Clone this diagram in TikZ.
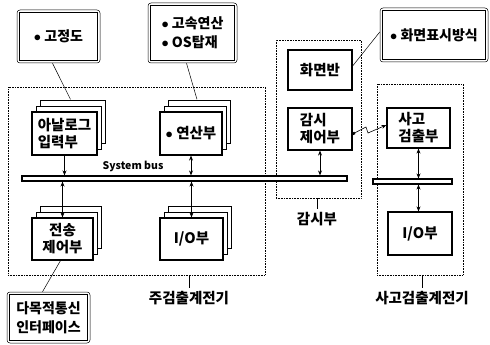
\documentclass[tikz,border=0pt]{standalone}
\usepackage{fontspec}
\setmainfont{Noto Sans CJK KR}
\usetikzlibrary{arrows.meta,shadows}
\tikzset{
  box/.style={draw, line width=1.2pt, fill=white, inner sep=1pt, font=\bfseries\fontsize{14.5}{17}\selectfont},
  stack/.style={box, double copy shadow={shadow xshift=4pt, shadow yshift=6pt, draw, fill=white, line width=1pt}},
  callout/.style={draw, line width=0.5pt, rounded corners=3pt, fill=white, font=\bfseries\fontsize{14}{19}\selectfont, align=left},
  innerframe/.style={line width=1.2pt},
  group/.style={draw, densely dotted, line width=0.6pt},
  bus/.style={draw, line width=1.1pt, fill=white, inner sep=0pt, minimum height=5pt},
  lbl/.style={font=\bfseries\fontsize{14.5}{17}\selectfont},
  thinline/.style={line width=0.5pt},
  darrow/.style={line width=0.8pt, {Stealth[length=5pt,width=4pt]}-{Stealth[length=5pt,width=4pt]}},
  sarrow/.style={line width=0.8pt, -{Stealth[length=5pt,width=4pt]}},
}
\newcommand\framein[1]{\draw[innerframe] ([shift={(3pt,-3pt)}]#1.north west) rectangle ([shift={(-3pt,3pt)}]#1.south east);}
\begin{document}
\begin{tikzpicture}[x=1pt,y=-1pt]
\useasboundingbox (0,0) rectangle (490,345);
% group frames
\node[group, minimum width=257pt, minimum height=188pt, inner sep=0] (mainbox) at (136.5,181) {};
\node[group, minimum width=85pt, minimum height=158pt, inner sep=0] (gambox) at (318.5,119) {};
\node[group, minimum width=86pt, minimum height=191pt, inner sep=0] (sagobox) at (420,179.5) {};
% callouts
\node[callout, minimum width=83pt, minimum height=53pt] (c1) at (58.5,36.5) {$\bullet$ 고정도};
\framein{c1}
\node[callout, minimum width=89pt, minimum height=60pt] (c2) at (192.5,33) {$\bullet$ 고속연산\\$\bullet$ OS탑재};
\framein{c2}
\node[callout, minimum width=108pt, minimum height=54pt] (c3) at (434,35) {$\bullet$ 화면표시방식};
\framein{c3}
\node[callout, minimum width=83pt, minimum height=51pt, align=center] (c4) at (48.5,317.5) {다목적통신\\인터페이스};
\framein{c4}
% units
\node[stack, minimum width=65pt, minimum height=43pt, align=left] (analog) at (64.5,133.5) {아날로그\\입력부};
\node[stack, minimum width=62pt, minimum height=43pt] (ops) at (191,133.5) {$\bullet$ 연산부};
\node[stack, minimum width=61pt, minimum height=42pt, align=center] (trans) at (62.5,239) {전송\\제어부};
\node[stack, minimum width=63pt, minimum height=42pt] (iol) at (191.5,239) {I/O부};
\node[box, minimum width=64pt, minimum height=40pt] (monitor) at (320,70) {화면반};
\node[box, minimum width=64pt, minimum height=42pt, align=left] (mctrl) at (320,129) {감시\\제어부};
\node[box, minimum width=63pt, minimum height=40pt, align=left] (accdet) at (418.5,128) {사고\\검출부};
\node[box, minimum width=64pt, minimum height=43pt] (ior) at (420,233.5) {I/O부};
% buses
\node[bus, minimum width=325pt] (bus1) at (184.5,178.5) {};
\node[bus, minimum width=79pt] (bus2) at (412.5,181.5) {};
\node[font=\bfseries\fontsize{10.5}{12}\selectfont] (buslbl) at (133,166) {System bus};
% bus arrows
\draw[sarrow] (analog.south) -- (analog.south |- bus1.north);
\draw[darrow] (ops.south) -- (ops.south |- bus1.north);
\draw[darrow] (trans.north |- bus1.south) -- (trans.north);
\draw[darrow] (iol.north |- bus1.south) -- (iol.north);
\draw[darrow] (mctrl.south) -- (mctrl.south |- bus1.north);
\draw[darrow] (accdet.south) -- (accdet.south |- bus2.north);
\draw[darrow] (accdet.south |- bus2.south) -- (accdet.south |- ior.north);
% callout lines
\draw[thinline] ([xshift=-6pt]c1.south) -- ([xshift=6pt,yshift=12pt]analog.north);
\draw[thinline] ([xshift=-6pt]c2.south) -- ([xshift=6pt,yshift=12pt]ops.north);
\draw[thinline] ([yshift=4pt]monitor.east) -- ([yshift=3pt]c3.west);
\draw[thinline] ([xshift=-2pt]trans.south) -- ([xshift=-6pt]c4.north);
% zigzag link
\coordinate (z1) at (366,127);
\coordinate (z2) at (368,133);
\draw[line width=0.6pt, {Square[length=2.5pt]}-{Stealth[length=5pt,width=4pt]}] ([yshift=-5pt]mctrl.east) -- (z1) -- (z2) -- ([yshift=3pt]accdet.west);
% group labels
\node[lbl] (mainlbl) at (189,298) {주검출계전기};
\draw[thinline] (mainbox.south -| mainlbl.north) -- (mainlbl.north);
\node[lbl] (gamlbl) at (317,219) {감시부};
\draw[thinline] (gambox.south -| gamlbl.north) -- (gamlbl.north);
\node[lbl] (sagolbl) at (422,298) {사고검출계전기};
\draw[thinline] (sagobox.south -| sagolbl.north) -- (sagolbl.north);
\end{tikzpicture}
\end{document}
